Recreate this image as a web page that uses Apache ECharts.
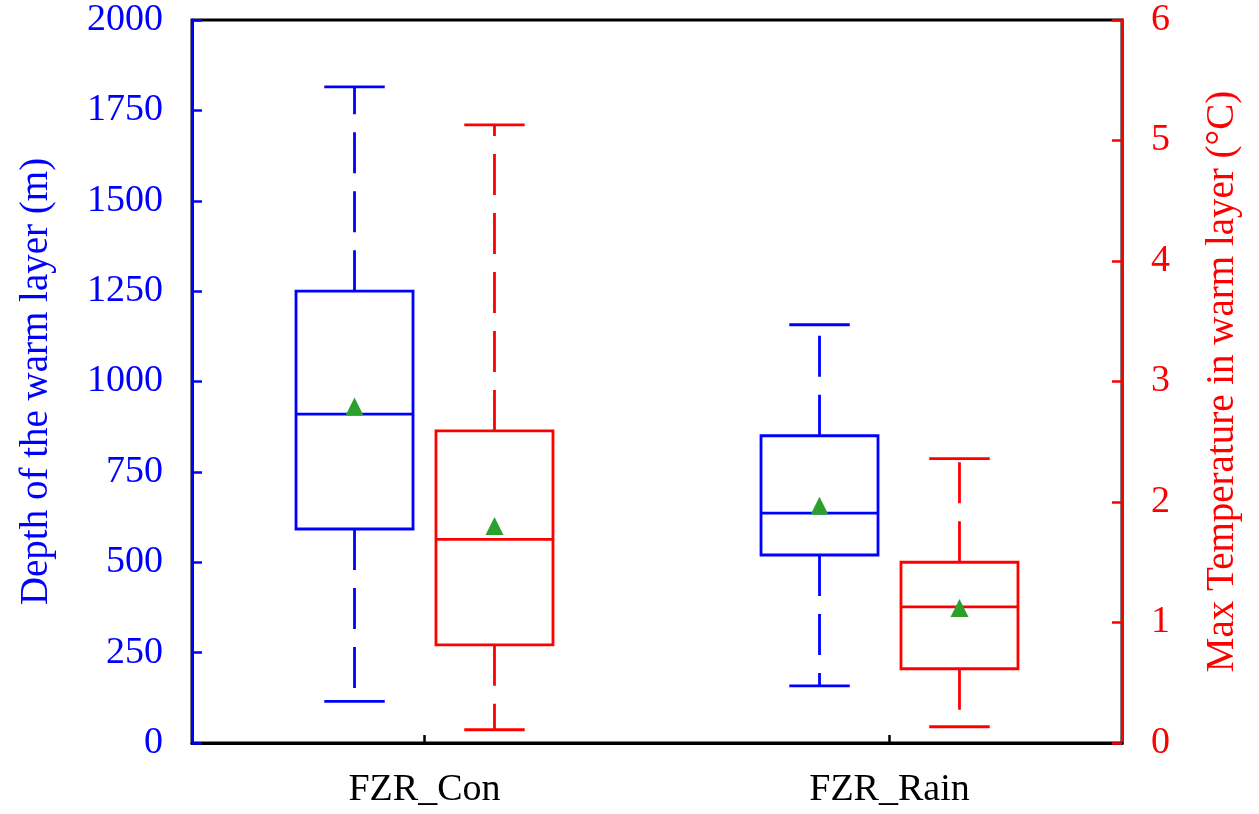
<!DOCTYPE html>
<html>
<head>
<meta charset="utf-8">
<script src="https://cdn.jsdelivr.net/npm/echarts@6/dist/echarts.min.js"></script>
<style>
html,body{margin:0;padding:0;background:#fff;}
#chart{width:1259px;height:814px;}
</style>
</head>
<body>
<div id="chart"></div>
<script>
const categories = ['FZR_Con', 'FZR_Rain'];

// Depth of the warm layer (m) — left axis, blue
const depthLow    = [115, 158];
const depthQ1     = [592, 520];
const depthMedian = [910, 636];
const depthQ3     = [1250, 850];
const depthHigh   = [1815, 1157];
const depthMean   = [931, 656];

// Max temperature in warm layer (°C) — right axis, red
const tempLow    = [0.11, 0.135];
const tempQ1     = [0.815, 0.616];
const tempMedian = [1.69, 1.13];
const tempQ3     = [2.59, 1.50];
const tempHigh   = [5.13, 2.36];
const tempMean   = [1.80, 1.12];

const leftTicks = [0, 250, 500, 750, 1000, 1250, 1500, 1750, 2000];
const rightTicks = [0, 1, 2, 3, 4, 5, 6];

const BLUE = '#0000ff';
const RED = '#ff0000';
const GREEN = '#2ca02c';
const FONT = 'Liberation Serif';

function buildData(low, q1, med, q3, high, mean) {
  return categories.map((c, i) => [i, low[i], q1[i], med[i], q3[i], high[i], mean[i]]);
}

function makeRender(sign, color) {
  return function (params, api) {
    const c = api.value(0);
    const bw = api.size([1, 0])[0];
    const xc = api.coord([c, 0])[0] + sign * 0.1505 * bw;
    const y = k => api.coord([c, api.value(k)])[1];
    const yLow = y(1), yQ1 = y(2), yMed = y(3), yQ3 = y(4), yHigh = y(5), yMean = y(6);
    const halfBox = bw * 0.1258;
    const halfCap = bw * 0.065;
    const lw = 2.8;
    const st = {stroke: color, lineWidth: lw, fill: null};
    const dash = {stroke: color, lineWidth: lw, fill: null, lineDash: [41, 18]};
    const r = 9;
    return {
      type: 'group',
      children: [
        {type: 'line', shape: {x1: xc, y1: yQ3, x2: xc, y2: yHigh}, style: dash},
        {type: 'line', shape: {x1: xc, y1: yQ1, x2: xc, y2: yLow}, style: dash},
        {type: 'line', shape: {x1: xc - halfCap, y1: yHigh, x2: xc + halfCap, y2: yHigh}, style: st},
        {type: 'line', shape: {x1: xc - halfCap, y1: yLow, x2: xc + halfCap, y2: yLow}, style: st},
        {type: 'rect', shape: {x: xc - halfBox, y: yQ3, width: 2 * halfBox, height: yQ1 - yQ3}, style: st},
        {type: 'line', shape: {x1: xc - halfBox, y1: yMed, x2: xc + halfBox, y2: yMed}, style: st},
        {type: 'polygon', shape: {points: [[xc, yMean - r], [xc - r, yMean + r], [xc + r, yMean + r]]},
          style: {fill: GREEN, stroke: null}}
      ]
    };
  };
}

const chart = echarts.init(document.getElementById('chart'), null, {renderer: 'canvas'});
chart.setOption({
  backgroundColor: '#ffffff',
  animation: false,
  grid: {
    left: 192, right: 137, top: 20, bottom: 71,
    show: true, borderColor: '#000', borderWidth: 3, backgroundColor: 'transparent'
  },
  xAxis: {
    type: 'category',
    data: categories,
    boundaryGap: true,
    axisLine: {show: true, lineStyle: {color: '#000', width: 3}},
    axisTick: {show: true, inside: true, alignWithLabel: true, length: 8, lineStyle: {color: '#000', width: 2.5}},
    axisLabel: {color: '#000', fontSize: 38, fontFamily: FONT, margin: 28},
    splitLine: {show: false}
  },
  yAxis: [
    {
      type: 'value', position: 'left', min: 0, max: 2000, interval: 250,
      name: 'Depth of the warm layer (m)', nameLocation: 'middle', nameGap: 136,
      nameTextStyle: {color: BLUE, fontSize: 39, fontFamily: FONT},
      axisLine: {show: true, lineStyle: {color: BLUE, width: 3}},
      axisTick: {show: true, inside: true, length: 10, lineStyle: {color: BLUE, width: 2.5}},
      axisLabel: {color: BLUE, fontSize: 38, fontFamily: FONT, margin: 29,
        formatter: v => leftTicks.includes(v) ? String(v) : ''},
      splitLine: {show: false}
    },
    {
      type: 'value', position: 'right', min: 0, max: 6, interval: 1,
      name: 'Max Temperature in warm layer (°C)', nameLocation: 'middle', nameGap: 81,
      nameTextStyle: {color: RED, fontSize: 39, fontFamily: FONT},
      axisLine: {show: true, lineStyle: {color: RED, width: 3}},
      axisTick: {show: true, inside: true, length: 10, lineStyle: {color: RED, width: 2.5}},
      axisLabel: {color: RED, fontSize: 38, fontFamily: FONT, margin: 29,
        formatter: v => rightTicks.includes(v) ? String(v) : ''},
      splitLine: {show: false}
    }
  ],
  series: [
    {
      type: 'custom', name: 'Depth', xAxisIndex: 0, yAxisIndex: 0,
      renderItem: makeRender(-1, BLUE),
      encode: {x: 0, y: [1, 2, 3, 4, 5, 6]},
      data: buildData(depthLow, depthQ1, depthMedian, depthQ3, depthHigh, depthMean),
      clip: false
    },
    {
      type: 'custom', name: 'Temperature', xAxisIndex: 0, yAxisIndex: 1,
      renderItem: makeRender(1, RED),
      encode: {x: 0, y: [1, 2, 3, 4, 5, 6]},
      data: buildData(tempLow, tempQ1, tempMedian, tempQ3, tempHigh, tempMean),
      clip: false
    }
  ]
});
</script>
</body>
</html>
